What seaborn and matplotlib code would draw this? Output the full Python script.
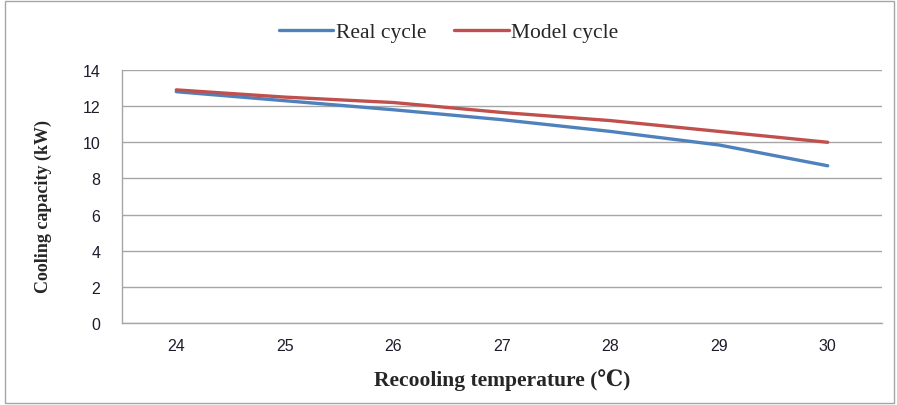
import numpy as np
import pandas as pd
import matplotlib
matplotlib.use("Agg")
import matplotlib.pyplot as plt
import seaborn as sns
from matplotlib.patches import Rectangle
from matplotlib.lines import Line2D

# Data
temperature = [24, 25, 26, 27, 28, 29, 30]
real_cycle = [12.8, 12.3, 11.8, 11.25, 10.6, 9.85, 8.7]
model_cycle = [12.9, 12.5, 12.2, 11.65, 11.2, 10.6, 10.0]
y_ticks = [0, 2, 4, 6, 8, 10, 12, 14]

df = pd.DataFrame({
    "temp": temperature * 2,
    "cap": real_cycle + model_cycle,
    "series": ["Real cycle"] * 7 + ["Model cycle"] * 7,
})

sns.set_style("white")
plt.rcParams['font.family'] = ['Liberation Sans', 'DejaVu Sans']

fig = plt.figure(figsize=(8.97, 4.06), dpi=100)
ax = fig.add_axes([122 / 897, 1 - 324 / 406, 760 / 897, 253 / 406])

sns.lineplot(
    data=df, x="temp", y="cap", hue="series",
    palette={"Real cycle": "#4F81BD", "Model cycle": "#C0504D"},
    linewidth=2.4, ax=ax, legend=False,
)

ax.set_xlim(23.5, 30.5)
ax.set_ylim(0, 14)
ax.set_yticks(y_ticks)
ax.set_xticks(temperature)
ax.grid(axis="y", color="#a6a6a6", linewidth=1)
ax.set_axisbelow(True)
for s in ["top", "right"]:
    ax.spines[s].set_visible(False)
for s in ["left", "bottom"]:
    ax.spines[s].set_color("#a6a6a6")
    ax.spines[s].set_linewidth(1)
ax.tick_params(axis="y", length=6.5, width=1, color="#a6a6a6", pad=9,
               labelsize=11.5, labelcolor="#1c1c2c")
ax.tick_params(axis="x", length=0, pad=11, labelsize=11.5, labelcolor="#1c1c2c")

serif = ["Liberation Serif", "DejaVu Serif"]
ax.set_xlabel("Recooling temperature (℃)", family=serif, fontweight="bold", fontsize=15.5)
ax.set_ylabel("Cooling capacity (kW)", family=serif, fontweight="bold", fontsize=13)
ax.xaxis.set_label_coords(0.5, -0.178)
ax.yaxis.set_label_coords(-0.092, 0.466)

# legend
handles = [Line2D([], [], color="#4F81BD", lw=2.4), Line2D([], [], color="#C0504D", lw=2.4)]
fig.legend(handles, ["Real cycle", "Model cycle"], loc="center", bbox_to_anchor=(0.5, 1 - 33 / 406),
           ncol=2, frameon=False, handlelength=2.55, handletextpad=0.1, columnspacing=1.3,
           prop={"family": "Liberation Serif", "size": 15.5})

# chart border
fig.patches.append(Rectangle((5 / 897, 2 / 406), 889 / 897, 402 / 406, transform=fig.transFigure,
                             fill=False, edgecolor="#a6a6a6", linewidth=1))

fig.savefig("out.png", dpi=100)
